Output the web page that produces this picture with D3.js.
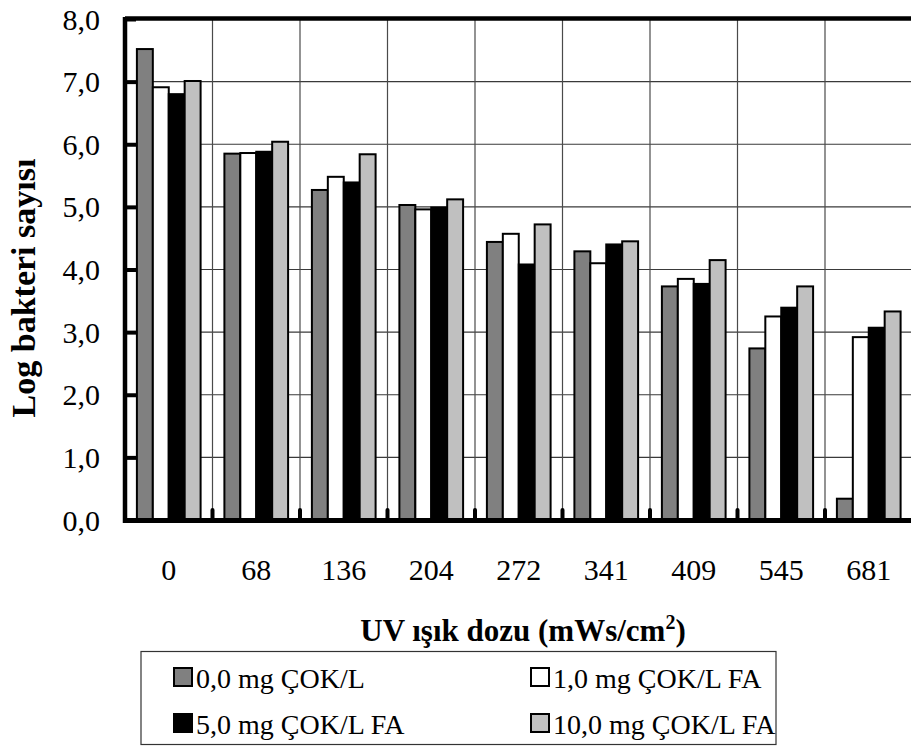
<!DOCTYPE html>
<html>
<head>
<meta charset="utf-8">
<script src="https://cdn.jsdelivr.net/npm/d3@7"></script>
<style>
  html, body { margin: 0; padding: 0; background: #fff; }
  svg { display: block; }
  text { font-family: "Liberation Serif", "Times New Roman", serif; fill: #000; }
</style>
</head>
<body>
<svg id="chart" width="911" height="747"></svg>
<script>
// UV dose categories (mWs/cm²)
const doses = ["0", "68", "136", "204", "272", "341", "409", "545", "681"];

// Log bacteria counts per humic-acid concentration
const series = ["0,0 mg ÇOK/L", "1,0 mg ÇOK/L FA", "5,0 mg ÇOK/L FA", "10,0 mg ÇOK/L FA"];
const s0 = [7.52, 5.85, 5.27, 5.03, 4.44, 4.29, 3.73, 2.74, 0.34];
const s1 = [6.91, 5.86, 5.48, 4.96, 4.57, 4.10, 3.85, 3.25, 2.92];
const s5 = [6.80, 5.88, 5.39, 4.99, 4.08, 4.40, 3.77, 3.39, 3.07];
const s10 = [7.01, 6.04, 5.84, 5.12, 4.72, 4.45, 4.15, 3.73, 3.33];
const values = [s0, s1, s5, s10];
const fills = ["#808080", "#ffffff", "#000000", "#c0c0c0"];

const yTicks = [0, 1, 2, 3, 4, 5, 6, 7, 8];

const svg = d3.select("#chart");
const pLeft = 125, pRight = 912.5, pTop = 19, pBottom = 520;

const x0 = d3.scaleBand().domain(doses).range([pLeft, pRight]).padding(0);
const bw = x0.bandwidth();
const x1 = d3.scaleBand().domain(d3.range(series.length))
  .range([bw * 0.136, bw * 0.864]).padding(0);
const y = d3.scaleLinear().domain([0, 8]).range([pBottom, pTop]);

const fmt = v => d3.format(".1f")(v).replace(".", ",");

// horizontal gridlines
svg.append("g").selectAll("line").data(yTicks.filter(t => t > 0 && t < 8)).join("line")
  .attr("x1", pLeft).attr("x2", 911)
  .attr("y1", d => y(d)).attr("y2", d => y(d))
  .attr("stroke", "#3a3a3a").attr("stroke-width", 1.2);

// vertical gridlines at category boundaries
const bounds = doses.slice(1);
svg.append("g").selectAll("line").data(bounds).join("line")
  .attr("x1", d => x0(d)).attr("x2", d => x0(d))
  .attr("y1", pTop).attr("y2", pBottom)
  .attr("stroke", "#4a4a4a").attr("stroke-width", 1.2);

// bars
const groups = svg.append("g").selectAll("g").data(doses).join("g")
  .attr("transform", d => `translate(${x0(d)},0)`);
groups.selectAll("rect")
  .data((d, i) => values.map((vals, k) => ({ k, v: vals[i] })))
  .join("rect")
  .attr("x", d => x1(d.k))
  .attr("width", x1.bandwidth())
  .attr("y", d => y(d.v))
  .attr("height", d => y(0) - y(d.v))
  .attr("fill", d => fills[d.k])
  .attr("stroke", "#000").attr("stroke-width", 2);

// small category tick marks on the x axis
svg.append("g").selectAll("line").data(bounds).join("line")
  .attr("x1", d => x0(d)).attr("x2", d => x0(d))
  .attr("y1", pBottom - 1).attr("y2", pBottom - 10)
  .attr("stroke", "#000").attr("stroke-width", 4).attr("stroke-linecap", "round");

// y axis with inside ticks
const yAxis = d3.axisRight(y).tickValues(yTicks).tickSize(11).tickFormat("");
const ya = svg.append("g").attr("transform", `translate(${pLeft},0)`).call(yAxis);
ya.select(".domain").remove();
ya.selectAll(".tick line").attr("stroke", "#000").attr("stroke-width", 4);

// frame: left axis, top border, bottom axis
svg.append("line").attr("x1", pLeft).attr("x2", pLeft).attr("y1", pTop - 2).attr("y2", pBottom + 3)
  .attr("stroke", "#000").attr("stroke-width", 4.5);
svg.append("line").attr("x1", pLeft).attr("x2", 911).attr("y1", pTop - 0.5).attr("y2", pTop - 0.5)
  .attr("stroke", "#000").attr("stroke-width", 4.5);
svg.append("line").attr("x1", pLeft - 2).attr("x2", 911).attr("y1", pBottom + 0.5).attr("y2", pBottom + 0.5)
  .attr("stroke", "#000").attr("stroke-width", 5);

// y tick labels
svg.append("g").selectAll("text").data(yTicks).join("text")
  .attr("x", 100).attr("y", d => y(d))
  .attr("text-anchor", "end").attr("dominant-baseline", "central")
  .style("font-size", "30px")
  .text(fmt);

// x tick labels
svg.append("g").selectAll("text").data(doses).join("text")
  .attr("x", d => x0(d) + bw / 2).attr("y", 580)
  .attr("text-anchor", "middle")
  .style("font-size", "30px")
  .text(d => d);

// axis titles
svg.append("text")
  .attr("transform", `translate(35,288) rotate(-90)`)
  .attr("text-anchor", "middle")
  .style("font-size", "34px").style("font-weight", "bold")
  .text("Log bakteri sayısı");

const xt = svg.append("text")
  .attr("x", 523).attr("y", 641)
  .attr("text-anchor", "middle")
  .style("font-size", "31px").style("font-weight", "bold");
xt.append("tspan").text("UV ışık dozu (mWs/cm");
xt.append("tspan").attr("dy", -12).style("font-size", "20px").text("2");
xt.append("tspan").attr("dy", 12).text(")");

// legend
const lg = svg.append("g");
lg.append("rect").attr("x", 141).attr("y", 651.5).attr("width", 635).attr("height", 93)
  .attr("fill", "#fff").attr("stroke", "#333").attr("stroke-width", 1.2);
const pos = [[174, 677], [531, 677], [174, 723], [531, 723]];
series.forEach((name, k) => {
  const [px, py] = pos[k];
  lg.append("rect").attr("x", px).attr("y", py - 9).attr("width", 18).attr("height", 18)
    .attr("fill", fills[k]).attr("stroke", "#000").attr("stroke-width", 2);
  lg.append("text").attr("x", px + 22).attr("y", py + 11)
    .style("font-size", "28px").text(name);
});
</script>
</body>
</html>
